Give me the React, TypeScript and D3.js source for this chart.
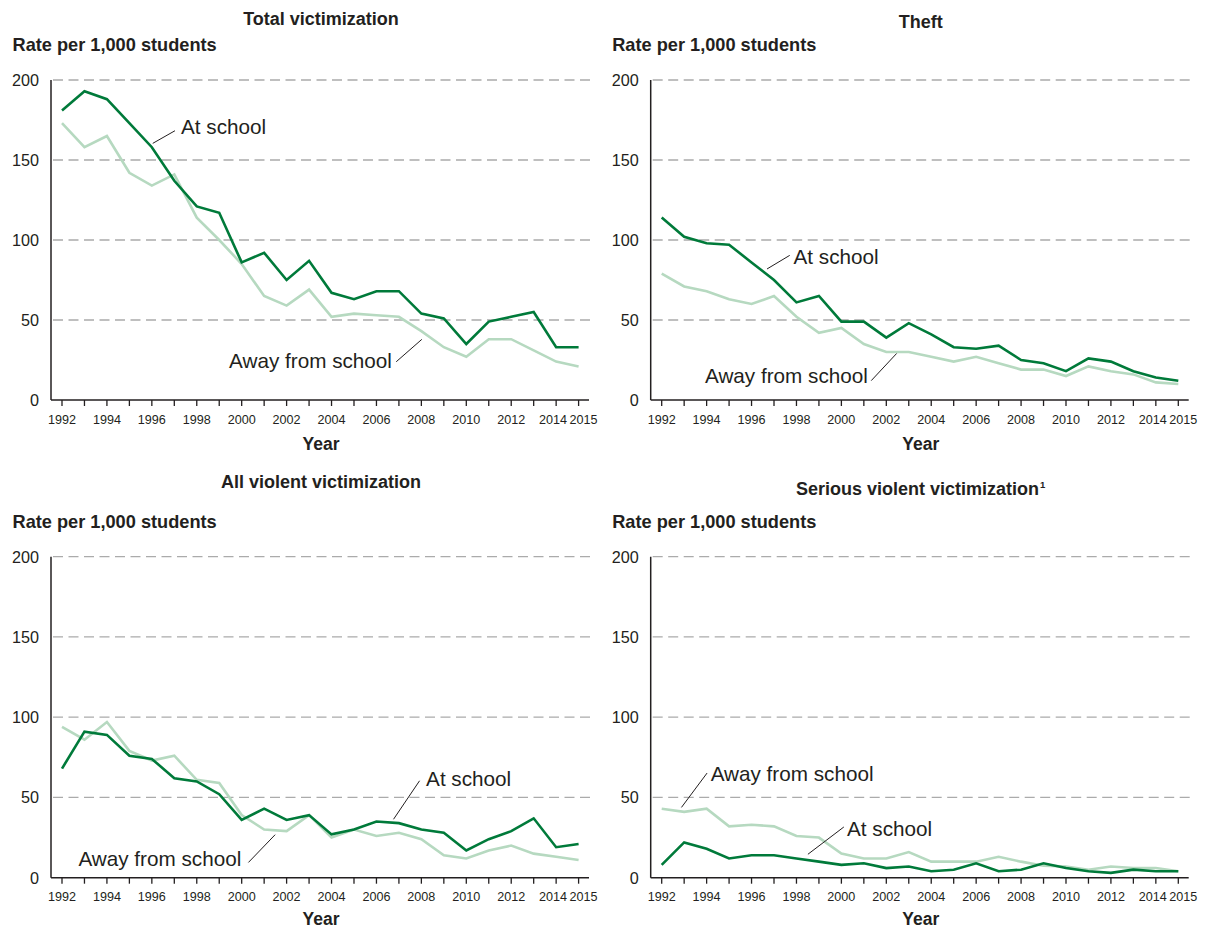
import React from "react";
import * as d3 from "d3";

const years: number[] = d3.range(1992, 2016);
const tickLabelYears: number[] = [1992, 1994, 1996, 1998, 2000, 2002, 2004, 2006, 2008, 2010, 2012, 2014, 2015];
const yTicks: number[] = [0, 50, 100, 150, 200];

const totalAtSchool = [181, 193, 188, 173, 158, 137, 121, 117, 86, 92, 75, 87, 67, 63, 68, 68, 54, 51, 35, 49, 52, 55, 33, 33];
const totalAway = [173, 158, 165, 142, 134, 141, 114, 100, 85, 65, 59, 69, 52, 54, 53, 52, 43, 33, 27, 38, 38, 31, 24, 21];
const theftAtSchool = [114, 102, 98, 97, 86, 75, 61, 65, 49, 49, 39, 48, 41, 33, 32, 34, 25, 23, 18, 26, 24, 18, 14, 12];
const theftAway = [79, 71, 68, 63, 60, 65, 52, 42, 45, 35, 30, 30, 27, 24, 27, 23, 19, 19, 15, 21, 18, 16, 11, 10];
const violentAtSchool = [68, 91, 89, 76, 74, 62, 60, 52, 36, 43, 36, 39, 27, 30, 35, 34, 30, 28, 17, 24, 29, 37, 19, 21];
const violentAway = [94, 86, 97, 79, 73, 76, 61, 59, 39, 30, 29, 39, 25, 30, 26, 28, 24, 14, 12, 17, 20, 15, 13, 11];
const seriousAtSchool = [8, 22, 18, 12, 14, 14, 12, 10, 8, 9, 6, 7, 4, 5, 9, 4, 5, 9, 6, 4, 3, 5, 4, 4];
const seriousAway = [43, 41, 43, 32, 33, 32, 26, 25, 15, 12, 12, 16, 10, 10, 10, 13, 10, 7.5, 7, 5, 7, 6, 6, 4];

const DARK = "#007a3a";
const LIGHT = "#b6d9c0";
const INK = "#231f20";
const FONT = "'Liberation Sans', Arial, Helvetica, sans-serif";

type Note = { text: string; tx: number; ty: number; anchor: "start" | "end"; l: [number, number, number, number] };
type Panel = {
  title: string;
  sup?: string;
  titleY: number;
  rateY: number;
  yearY: number;
  axisX: number;
  top: number;
  bottom: number;
  at: number[];
  away: number[];
  notes: Note[];
};

const panels: Panel[] = [
  {
    title: "Total victimization", titleY: 25, rateY: 50.7, yearY: 450, axisX: 51, top: 80, bottom: 400,
    at: totalAtSchool, away: totalAway,
    notes: [
      { text: "At school", tx: 1997.3, ty: 166.3, anchor: "start", l: [1996.04, 160.4, 1997.03, 168.3] },
      { text: "Away from school", tx: 2006.69, ty: 20, anchor: "end", l: [2006.88, 23.9, 2008.02, 37.9] },
    ],
  },
  {
    title: "Theft", titleY: 28, rateY: 50.7, yearY: 450, axisX: 650.7, top: 80, bottom: 400,
    at: theftAtSchool, away: theftAway,
    notes: [
      { text: "At school", tx: 1997.87, ty: 85, anchor: "start", l: [1996.69, 81.9, 1997.7, 90.4] },
      { text: "Away from school", tx: 2001.18, ty: 10.4, anchor: "end", l: [2001.33, 12.1, 2002.46, 29.1] },
    ],
  },
  {
    title: "All violent victimization", titleY: 487.7, rateY: 527.7, yearY: 925, axisX: 51, top: 556.7, bottom: 877.7,
    at: violentAtSchool, away: violentAway,
    notes: [
      { text: "Away from school", tx: 1992.73, ty: 7, anchor: "start", l: [2000.3, 9.5, 2001.49, 26.8] },
      { text: "At school", tx: 2008.21, ty: 56.9, anchor: "start", l: [2006.76, 36.4, 2007.92, 60.4] },
    ],
  },
  {
    title: "Serious violent victimization", sup: "1", titleY: 495, rateY: 527.7, yearY: 925, axisX: 650.7, top: 556.7, bottom: 877.7,
    at: seriousAtSchool, away: seriousAway,
    notes: [
      { text: "Away from school", tx: 1994.18, ty: 60, anchor: "start", l: [1992.88, 43.8, 1994.02, 65.2] },
      { text: "At school", tx: 2000.25, ty: 25.7, anchor: "start", l: [1998.51, 14.6, 2000.11, 31.6] },
    ],
  },
];

function labelNudge(yr: number): number {
  if (yr === 2014) return -3;
  if (yr === 2015) return 5;
  return 0;
}

function PanelView({ p }: { p: Panel }) {
  const x = d3.scaleLinear().domain([1992, 2015]).range([p.axisX + 11, p.axisX + 527.6]);
  const y = d3.scaleLinear().domain([0, 200]).range([p.bottom, p.top]);
  const right = p.axisX + 539;
  const line = d3
    .line<number>()
    .x((_, i) => x(years[i]))
    .y((d) => y(d));
  const center = p.axisX + 270;
  return (
    <g>
      <text x={center} y={p.titleY} textAnchor="middle" fontWeight="bold" fontSize={18} fill={INK}>
        {p.title}
        {p.sup ? (
          <tspan fontSize={9.5} dy={-7} dx={1}>{p.sup}</tspan>
        ) : null}
      </text>
      <text x={p.axisX - 38.5} y={p.rateY} fontWeight="bold" fontSize={18.2} fill={INK}>
        Rate per 1,000 students
      </text>
      {yTicks.filter((t) => t > 0).map((t) => (
        <line key={"g" + t} x1={p.axisX + 2} x2={right} y1={y(t)} y2={y(t)} stroke="#ababab" strokeWidth={1.3} strokeDasharray="10,5.5" />
      ))}
      {yTicks.map((t) => (
        <text key={"yl" + t} x={p.axisX - 12} y={y(t)} dy="0.36em" textAnchor="end" fontSize={16.2} fill={INK}>
          {t}
        </text>
      ))}
      <line x1={p.axisX} x2={p.axisX} y1={p.top} y2={p.bottom} stroke={INK} strokeWidth={1.5} />
      <line x1={p.axisX} x2={right - 1} y1={p.bottom} y2={p.bottom} stroke={INK} strokeWidth={1.5} />
      {years.map((yr) => (
        <line key={"t" + yr} x1={x(yr)} x2={x(yr)} y1={p.bottom} y2={p.bottom + 6} stroke={INK} strokeWidth={1.3} />
      ))}
      {tickLabelYears.map((yr) => (
        <text key={"xl" + yr} x={x(yr) + labelNudge(yr)} y={p.bottom + 23.5} textAnchor="middle" fontSize={12.6} fill={INK}>
          {yr}
        </text>
      ))}
      <text x={center} y={p.yearY} textAnchor="middle" fontWeight="bold" fontSize={17.5} fill={INK}>
        Year
      </text>
      <path d={line(p.away) || ""} fill="none" stroke={LIGHT} strokeWidth={2.6} strokeLinejoin="miter" />
      <path d={line(p.at) || ""} fill="none" stroke={DARK} strokeWidth={2.6} strokeLinejoin="miter" />
      {p.notes.map((n, i) => (
        <g key={"n" + i}>
          <line x1={x(n.l[0])} y1={y(n.l[1])} x2={x(n.l[2])} y2={y(n.l[3])} stroke={INK} strokeWidth={1} />
          <text x={x(n.tx)} y={y(n.ty)} textAnchor={n.anchor} fontSize={20.7} fill={INK}>
            {n.text}
          </text>
        </g>
      ))}
    </g>
  );
}

export default function App() {
  return (
    <svg
      width={1207}
      height={930}
      viewBox="0 0 1207 930"
      style={{ position: "absolute", left: 0, top: 0, background: "#fff", fontFamily: FONT }}
    >
      <rect x={0} y={0} width={1207} height={930} fill="#fff" />
      {panels.map((p, i) => (
        <PanelView key={i} p={p} />
      ))}
    </svg>
  );
}
